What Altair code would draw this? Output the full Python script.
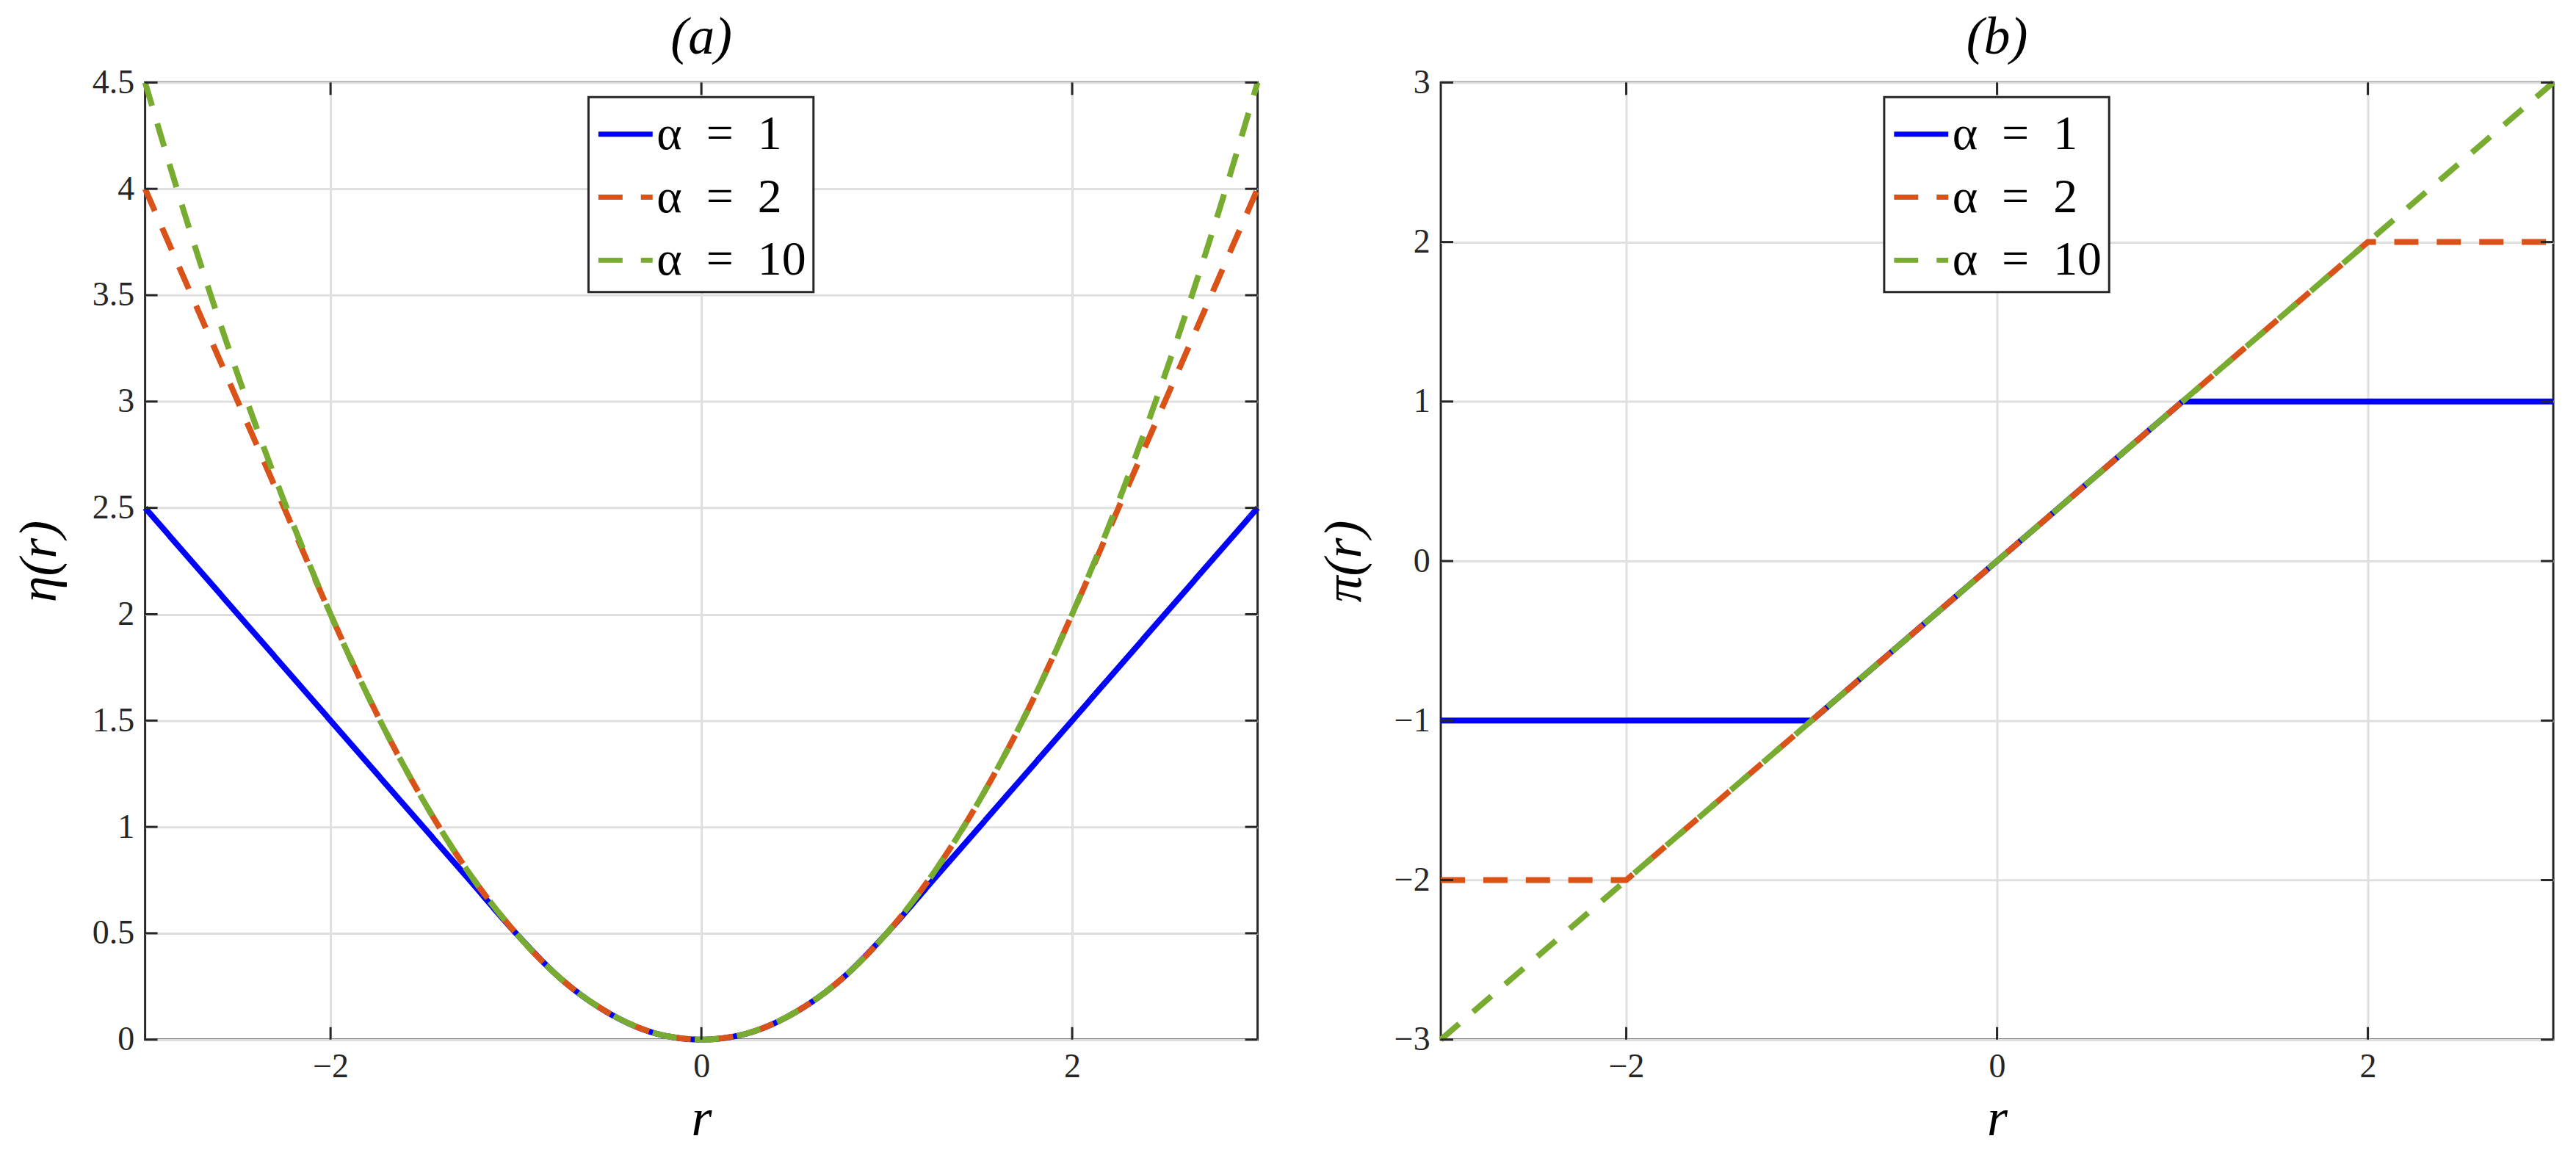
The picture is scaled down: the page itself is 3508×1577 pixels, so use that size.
import altair as alt
import pandas as pd

# ---------------- data ----------------
r_a = [-3, -2.75, -2.5, -2.25, -2, -1.75, -1.5, -1.25, -1, -0.75, -0.5, -0.25, 0,
       0.25, 0.5, 0.75, 1, 1.25, 1.5, 1.75, 2, 2.25, 2.5, 2.75, 3]
eta_1 = [2.5, 2.25, 2.0, 1.75, 1.5, 1.25, 1.0, 0.75, 0.5, 0.28, 0.125, 0.03, 0,
         0.03, 0.125, 0.28, 0.5, 0.75, 1.0, 1.25, 1.5, 1.75, 2.0, 2.25, 2.5]
eta_2 = [4.0, 3.5, 3.0, 2.5, 2.0, 1.53, 1.125, 0.78, 0.5, 0.28, 0.125, 0.03, 0,
         0.03, 0.125, 0.28, 0.5, 0.78, 1.125, 1.53, 2.0, 2.5, 3.0, 3.5, 4.0]
eta_10 = [4.5, 3.78, 3.125, 2.53, 2.0, 1.53, 1.125, 0.78, 0.5, 0.28, 0.125, 0.03, 0,
          0.03, 0.125, 0.28, 0.5, 0.78, 1.125, 1.53, 2.0, 2.53, 3.125, 3.78, 4.5]

r_b = [-3, -2, -1, 0, 1, 2, 3]
pi_1 = [-1, -1, -1, 0, 1, 1, 1]
pi_2 = [-2, -2, -1, 0, 1, 2, 2]
pi_10 = [-3, -2, -1, 0, 1, 2, 3]

SP = "\u00a0\u00a0"
series = ["α" + SP + "=" + SP + "1", "α" + SP + "=" + SP + "2", "α" + SP + "=" + SP + "10"]
colors = ["#0000FF", "#D95319", "#77AC30"]
dashes = [[1, 0], [33, 25], [33, 25]]

x_ticks = [-2, 0, 2]
y_ticks_a = [0, 0.5, 1, 1.5, 2, 2.5, 3, 3.5, 4, 4.5]
y_ticks_b = [-3, -2, -1, 0, 1, 2, 3]

W, H = 1518, 1306
FONT = "Liberation Serif"
DARK = "#262626"
TICK = 17


def long_df(r, ys):
    rows = []
    for k, (name, vals) in enumerate(zip(series, ys)):
        for rv, yv in zip(r, vals):
            rows.append({"r": rv, "y": yv, "s": name, "o": k})
    return pd.DataFrame(rows)


df_a = long_df(r_a, [eta_1, eta_2, eta_10])
df_b = long_df(r_b, [pi_1, pi_2, pi_10])


def panel(df, ydomain, yticks, ytitle, title, interp, title_x):
    xs = alt.Scale(domain=[-3, 3], nice=False, zero=False)
    ys = alt.Scale(domain=ydomain, nice=False, zero=False)
    legend = dict(
        orient="none", legendX=605, legendY=20, title=None,
        labelFont=FONT, labelFontSize=66, labelColor="#000000", labelLimit=0,
        symbolType="stroke", symbolSize=74 * 74, symbolStrokeWidth=7,
        labelOffset=2, rowPadding=12, padding=10,
        strokeColor=DARK, fillColor="#ffffff", cornerRadius=0,
    )
    lines = alt.Chart(df).mark_line(strokeWidth=8, interpolate=interp, clip=False).encode(
        x=alt.X("r:Q", scale=xs,
                axis=alt.Axis(values=x_ticks, title="r", titleFontStyle="italic",
                              titleY=130, titleBaseline="alphabetic",
                              labelPadding=15, format="~g")),
        y=alt.Y("y:Q", scale=ys,
                axis=alt.Axis(values=yticks, title=ytitle, titleFontStyle="italic",
                              titleX=title_x, titleY=H / 2, titleBaseline="middle",
                              titleAlign="center", titleAngle=270,
                              labelPadding=15, format="~g")),
        color=alt.Color("s:N", scale=alt.Scale(domain=series, range=colors),
                        legend=alt.Legend(**legend)),
        strokeDash=alt.StrokeDash("s:N", scale=alt.Scale(domain=series, range=dashes),
                                  legend=alt.Legend(**legend)),
        order=alt.Order("o:Q"),
    )
    xt = pd.DataFrame({"r": x_ticks})
    yt = pd.DataFrame({"y": yticks})
    rule = dict(color=DARK, strokeWidth=3)
    bot = alt.Chart(xt).mark_rule(**rule).encode(
        x=alt.X("r:Q", scale=xs), y=alt.value(H), y2=alt.value(H - TICK))
    top = alt.Chart(xt).mark_rule(**rule).encode(
        x=alt.X("r:Q", scale=xs), y=alt.value(0), y2=alt.value(TICK))
    left = alt.Chart(yt).mark_rule(**rule).encode(
        y=alt.Y("y:Q", scale=ys), x=alt.value(0), x2=alt.value(TICK))
    right = alt.Chart(yt).mark_rule(**rule).encode(
        y=alt.Y("y:Q", scale=ys), x=alt.value(W), x2=alt.value(W - TICK))
    return alt.layer(lines, bot, top, left, right).properties(
        width=W, height=H,
        title=alt.TitleParams(title, font=FONT, fontSize=72, fontStyle="italic",
                              fontWeight="normal", color="#000000", frame="group",
                              baseline="alphabetic", offset=-56, anchor="middle"),
    )


def build(legend_stroke=True):
    a = panel(df_a, [0, 4.5], y_ticks_a, "η(r)", "(a)", "monotone", -144)
    b = panel(df_b, [-3, 3], y_ticks_b, "π(r)", "(b)", "linear", -132)
    ch = alt.hconcat(a, b, spacing=250, bounds="flush").resolve_scale(
        color="independent", strokeDash="independent", x="independent", y="independent"
    ).properties(
        padding={"left": 8, "top": 4, "right": 5, "bottom": 5},
        background="#ffffff",
    ).configure_view(
        stroke=DARK, strokeWidth=3
    ).configure_axis(
        domain=False, ticks=False, grid=True, gridColor="#dfdfdf", gridWidth=3,
        labelFont=FONT, labelFontSize=46, labelColor=DARK,
        titleFont=FONT, titleFontSize=72, titleColor="#000000", titleFontWeight="normal",
    )
    if legend_stroke:
        ch = ch.configure_legend(strokeWidth=3)
    return ch


try:
    chart = build(True)
    chart.to_dict()
except Exception:
    chart = build(False)

chart.save("out.html", embed_options={"renderer": "svg", "actions": False})
